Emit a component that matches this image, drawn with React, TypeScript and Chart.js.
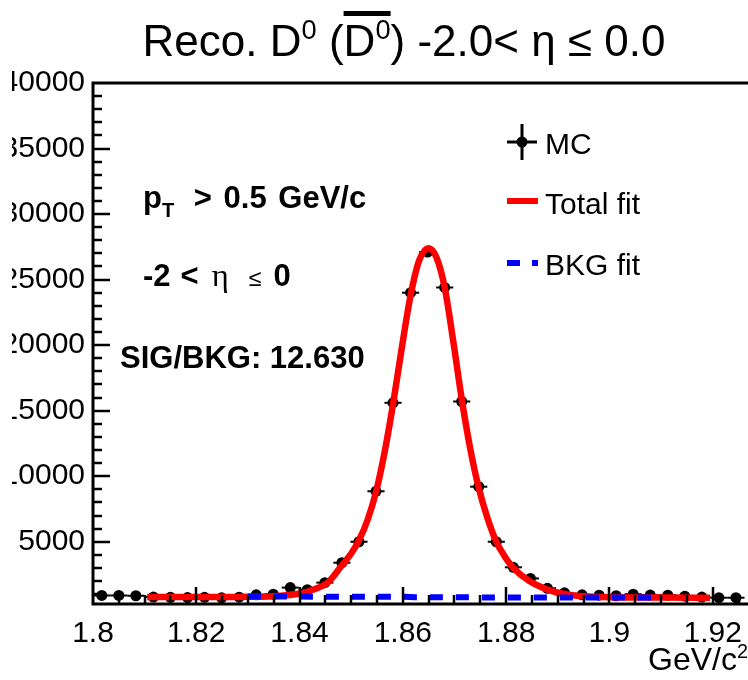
import React, { useEffect, useRef } from 'react';
import { Chart, registerables } from 'chart.js';

Chart.register(...registerables);

// ---------------- data ----------------
const binCenters = [
  1.8017, 1.8050, 1.8083, 1.8117, 1.8150, 1.8183, 1.8216, 1.8249, 1.8283, 1.8316,
  1.8349, 1.8382, 1.8415, 1.8449, 1.8482, 1.8515, 1.8548, 1.8581, 1.8615, 1.8648,
  1.8681, 1.8714, 1.8747, 1.8781, 1.8814, 1.8847, 1.8880, 1.8913, 1.8947, 1.8980,
  1.9013, 1.9046, 1.9079, 1.9113, 1.9146, 1.9179, 1.9212, 1.9245,
];
const mcCounts = [
  900, 900, 880, 780, 760, 740, 760, 720, 770, 950,
  1000, 1500, 1340, 1880, 3400, 5000, 8850, 15600, 24000, 27100,
  24400, 15700, 9200, 5000, 3050, 2200, 1450, 1100, 950, 920,
  880, 1000, 930, 920, 850, 780, 730, 730,
];
const binHalfWidth = 0.00166;

const totalFitX = [
  1.8105, 1.8200, 1.8300, 1.8350, 1.8400, 1.8430, 1.8455, 1.8482, 1.8500, 1.8515,
  1.8532, 1.8548, 1.8565, 1.8581, 1.8598, 1.8615, 1.8632, 1.8650, 1.8665, 1.8681,
  1.8698, 1.8714, 1.8731, 1.8747, 1.8764, 1.8781, 1.8797, 1.8814, 1.8845, 1.8880,
  1.8920, 1.8960, 1.9000, 1.9100, 1.9195,
];
const totalFitY = [
  780, 780, 800, 850, 1050, 1400, 1900, 3200, 4100, 5100,
  6700, 8800, 11900, 15500, 19800, 23800, 26500, 27400, 26700, 24400,
  20200, 15900, 12000, 9100, 6800, 5000, 3900, 3000, 2000, 1350,
  950, 820, 770, 740, 720,
];

const bkgFitX = [1.8300, 1.8600, 1.8625, 1.9085];
const bkgFitY = [820, 800, 760, 740];

const xTickValues = [1.8, 1.82, 1.84, 1.86, 1.88, 1.9, 1.92];
const xTickLabels = ['1.8', '1.82', '1.84', '1.86', '1.88', '1.9', '1.92'];
const yTickValues = [5000, 10000, 15000, 20000, 25000, 30000, 35000, 40000];
const yTickLabels = ['5000', '10000', '15000', '20000', '25000', '30000', '35000', '40000'];

// ---------------- layout ----------------
const FONT = "'Liberation Sans', Arial, Helvetica, sans-serif";
const SERIF = "'Liberation Serif', 'Times New Roman', serif";
const OFF = 40; // canvas x = page x + OFF
const CANVAS_W = 810;
const CANVAS_H = 680;

const rootPlugin = {
  id: 'rootStyle',
  afterDatasetDraw(chart: any, args: any) {
    if (args.index !== 0) return;
    const ctx = chart.ctx;
    const xs = chart.scales.x;
    const ys = chart.scales.y;
    const { left, right, top, bottom } = chart.chartArea;
    ctx.save();
    ctx.beginPath();
    ctx.rect(left, top, right - left, bottom - top);
    ctx.clip();
    ctx.strokeStyle = '#000';
    ctx.lineWidth = 2;
    binCenters.forEach((x, i) => {
      const py = ys.getPixelForValue(mcCounts[i]);
      ctx.beginPath();
      ctx.moveTo(xs.getPixelForValue(x - binHalfWidth), py);
      ctx.lineTo(xs.getPixelForValue(x + binHalfWidth), py);
      ctx.stroke();
    });
    ctx.restore();
  },
  afterDraw(chart: any) {
    const ctx = chart.ctx;
    const xs = chart.scales.x;
    const ys = chart.scales.y;
    const { left, right, top, bottom } = chart.chartArea;
    ctx.save();
    ctx.strokeStyle = '#000';
    ctx.lineCap = 'butt';
    // frame (left, bottom, top)
    ctx.lineWidth = 3;
    ctx.beginPath();
    ctx.moveTo(right, top);
    ctx.lineTo(left, top);
    ctx.lineTo(left, bottom);
    ctx.lineTo(right, bottom);
    ctx.stroke();
    // y ticks
    ctx.lineWidth = 2.5;
    for (let v = 1000; v < 40000; v += 1000) {
      const py = Math.round(ys.getPixelForValue(v));
      const major = v % 5000 === 0;
      ctx.beginPath();
      ctx.moveTo(left, py);
      ctx.lineTo(left + (major ? 17 : 9), py);
      ctx.stroke();
    }
    // x ticks
    for (let k = 1; k * 0.005 + 1.8 < 1.928; k++) {
      const v = 1.8 + k * 0.005;
      const px = Math.round(xs.getPixelForValue(v));
      const major = k % 4 === 0;
      ctx.beginPath();
      ctx.moveTo(px, bottom);
      ctx.lineTo(px, bottom - (major ? 17 : 9));
      ctx.stroke();
    }
    // legend markers (page coords + OFF)
    const mx = 522 + OFF;
    const my = 142;
    ctx.lineWidth = 3;
    ctx.beginPath();
    ctx.moveTo(mx, 124);
    ctx.lineTo(mx, 160);
    ctx.moveTo(507 + OFF, my);
    ctx.lineTo(537 + OFF, my);
    ctx.stroke();
    ctx.fillStyle = '#000';
    ctx.beginPath();
    ctx.arc(mx, my, 5.5, 0, Math.PI * 2);
    ctx.fill();
    ctx.strokeStyle = '#ff0000';
    ctx.lineWidth = 6;
    ctx.beginPath();
    ctx.moveTo(507 + OFF, 201);
    ctx.lineTo(538 + OFF, 201);
    ctx.stroke();
    ctx.strokeStyle = '#0000ff';
    ctx.setLineDash([13, 12]);
    ctx.beginPath();
    ctx.moveTo(507 + OFF, 263);
    ctx.lineTo(538 + OFF, 263);
    ctx.stroke();
    ctx.restore();
  },
};

const Sup = ({ children }: { children: any }) => (
  <span style={{ fontSize: '0.62em', position: 'relative', top: '-0.62em' }}>{children}</span>
);

export default function App() {
  const canvasRef = useRef<HTMLCanvasElement | null>(null);

  useEffect(() => {
    if (!canvasRef.current) return;
    const chart = new Chart(canvasRef.current, {
      type: 'scatter',
      data: {
        datasets: [
          {
            label: 'MC',
            data: binCenters.map((x, i) => ({ x, y: mcCounts[i] })),
            pointRadius: 5.5,
            pointBackgroundColor: '#000',
            pointBorderColor: '#000',
            pointBorderWidth: 0,
            showLine: false,
            order: 2,
          } as any,
          {
            type: 'line',
            label: 'Total fit',
            data: totalFitX.map((x, i) => ({ x, y: totalFitY[i] })),
            borderColor: '#ff0000',
            borderWidth: 6.5,
            pointRadius: 0,
            fill: false,
            cubicInterpolationMode: 'monotone',
            order: 1,
          } as any,
          {
            type: 'line',
            label: 'BKG fit',
            data: bkgFitX.map((x, i) => ({ x, y: bkgFitY[i] })),
            borderColor: '#0000ff',
            borderWidth: 6,
            borderDash: [13, 13],
            pointRadius: 0,
            fill: false,
            order: 0,
          } as any,
        ],
      },
      options: {
        animation: false,
        responsive: true,
        maintainAspectRatio: false,
        events: [],
        layout: { padding: { top: 83, right: 16, left: 0, bottom: 0 } },
        plugins: { legend: { display: false }, tooltip: { enabled: false }, title: { display: false } },
        scales: {
          x: {
            type: 'linear',
            min: 1.8,
            max: 1.928,
            grid: { display: false, drawTicks: false },
            border: { display: false },
            ticks: {
              padding: 12,
              color: '#000',
              font: { family: FONT, size: 30 },
              autoSkip: false,
              maxRotation: 0,
              callback: (_v: any, i: number) => xTickLabels[i],
            },
            afterBuildTicks: (s: any) => {
              s.ticks = xTickValues.map((v) => ({ value: v }));
            },
            afterFit: (s: any) => {
              s.height = CANVAS_H - 604;
            },
          },
          y: {
            type: 'linear',
            min: 250,
            max: 40000,
            grid: { display: false, drawTicks: false },
            border: { display: false },
            ticks: {
              padding: 8,
              color: '#000',
              font: { family: FONT, size: 30 },
              autoSkip: false,
              callback: (_v: any, i: number) => yTickLabels[i],
            },
            afterBuildTicks: (s: any) => {
              s.ticks = yTickValues.map((v) => ({ value: v }));
            },
            afterFit: (s: any) => {
              s.width = 93 + OFF;
            },
          },
        },
      } as any,
      plugins: [rootPlugin as any],
    });
    return () => chart.destroy();
  }, []);

  const abs = (left: number, top: number, size: number, extra: any = {}) => ({
    position: 'fixed' as const,
    left,
    top,
    fontSize: size,
    lineHeight: 1,
    whiteSpace: 'nowrap' as const,
    fontFamily: FONT,
    color: '#000',
    ...extra,
  });

  return (
    <div>
      <div style={{ position: 'fixed', left: 12, top: 0, width: 736, height: CANVAS_H, overflow: 'hidden', background: '#fff' }}>
        <div style={{ position: 'absolute', left: -OFF - 12, top: 0, width: CANVAS_W, height: CANVAS_H }}>
          <canvas ref={canvasRef} />
        </div>
      </div>
      {/* title */}
      <div style={abs(404, 19, 44, { transform: 'translateX(-50%)' })}>
        Reco. D<Sup>0</Sup> (<span style={{ borderTop: '5px solid #000' }}>D<Sup>0</Sup></span>) -2.0&lt; η ≤ 0.0
      </div>
      {/* annotations */}
      <div style={abs(143, 182, 31, { fontWeight: 'bold', wordSpacing: 3 })}>
        p<span style={{ fontSize: '0.65em', position: 'relative', top: '0.45em', marginRight: 8 }}>T</span> &gt; 0.5 GeV/c
      </div>
      <div style={abs(143, 259, 31, { fontWeight: 'bold' })}>
        -2<span style={{ marginLeft: 10 }}>&lt;</span>
        <span style={{ fontFamily: SERIF, fontWeight: 'normal', fontSize: '1.05em', marginLeft: 13 }}>η</span>
        <span style={{ fontWeight: 'normal', fontSize: '0.75em', marginLeft: 20 }}>≤</span>
        <span style={{ marginLeft: 12 }}>0</span>
      </div>
      <div style={abs(120, 342, 31, { fontWeight: 'bold' })}>SIG/BKG: 12.630</div>
      {/* legend text */}
      <div style={abs(545, 129, 30)}>MC</div>
      <div style={abs(545, 189, 30)}>Total fit</div>
      <div style={abs(545, 250, 30)}>BKG fit</div>
      {/* x axis title */}
      <div style={{ ...abs(0, 643, 32), left: 'auto', right: 0 }}>
        GeV/c<Sup>2</Sup>
      </div>
    </div>
  );
}
